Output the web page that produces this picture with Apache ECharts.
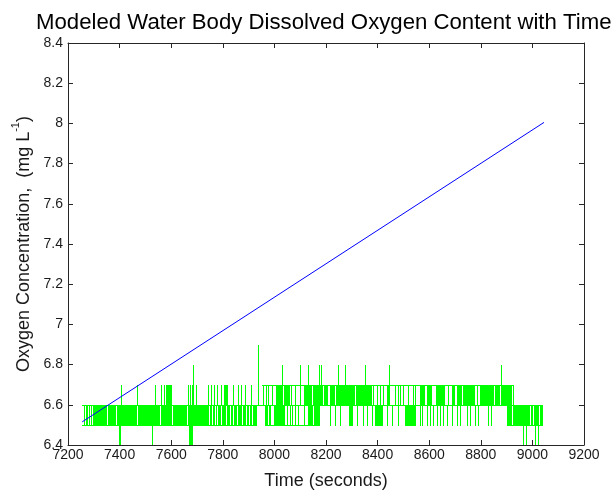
<!DOCTYPE html>
<html>
<head>
<meta charset="utf-8">
<script src="https://cdn.jsdelivr.net/npm/echarts@6/dist/echarts.min.js"></script>
<style>
html,body{margin:0;padding:0;background:#fff;}
#chart{width:615px;height:495px;}
</style>
</head>
<body>
<div id="chart"></div>
<script>
// ---- data ----
const titleText = 'Modeled Water Body Dissolved Oxygen Content with Time';
const xTicks = [7200, 7400, 7600, 7800, 8000, 8200, 8400, 8600, 8800, 9000, 9200];
const yTicks = [6.4, 6.6, 6.8, 7, 7.2, 7.4, 7.6, 7.8, 8, 8.2, 8.4];

// modeled (blue) line: [time, oxygen]
const modelLine = [[7255, 6.515], [9045, 8.005]];

// measured (green) signal levels
const levelDip = 6.4, levelLow = 6.5, levelMid = 6.6, levelHigh = 6.7;

// intervals [t0, t1] where signal flips between 6.5 and 6.6
const lowBand = [
  [7262,7264],[7268,7270],[7274,7276],[7281,7283],[7288,7290],
  [7298,7352],[7356,7385],[7391,7466],[7471,7555],[7560,7602],[7606,7660],[7664,7746],
  [7750,7757],[7761,7768],[7772,7777],[7781,7794],[7798,7813],[7817,7829],[7833,7841],
  [7845,7854],[7858,7875],[7879,7891],[7895,7901],[7905,7914],[7918,7931],
  [7964,7975],[7979,7988],[7998,8041],[8048,8052],[8061,8063],[8070,8074],[8080,8082],[8092,8096],[8113,8115],
  [8132,8149],[8153,8177],[8216,8218],[8235,8237],[8254,8256],[8291,8306],[8319,8321],
  [8345,8347],[8358,8360],[8377,8379],[8390,8422],[8435,8437],[8455,8457],[8481,8483],
  [8506,8549],[8565,8567],[8571,8573],[8590,8592],[8603,8605],[8616,8618],[8629,8631],
  [8642,8644],[8655,8657],[8668,8670],[8687,8689],[8707,8709],[8720,8722],[8745,8747],
  [8758,8760],[8778,8780],[8791,8793],[8829,8831],[8838,8840],
  [8900,8920],[8924,8989],[8993,9004],[9008,9025],[9029,9042]
];
// intervals where signal flips between 6.6 and 6.7
const highBand = [
  [7406,7409],[7467,7470],[7538,7541],[7562,7564],[7571,7573],[7579,7581],[7585,7602],
  [7665,7667],[7672,7674],[7682,7690],[7695,7697],[7743,7745],[7756,7758],[7766,7768],
  [7779,7781],[7792,7794],[7806,7821],[7840,7842],[7859,7861],
  [7871,7873],[7886,7888],[7911,7913],[7956,7958],[7967,7969],[7976,7978],[7989,7991],
  [8007,8033],[8037,8061],[8066,8068],[8079,8081],[8099,8101],[8113,8145],[8151,8177],
  [8177,8188],[8192,8209],[8215,8233],[8237,8311],[8315,8377],[8384,8386],[8397,8399],
  [8410,8412],[8422,8424],[8435,8448],[8468,8470],[8481,8483],
  [8487,8489],[8500,8502],[8519,8521],[8539,8541],[8545,8547],[8565,8584],[8590,8610],
  [8627,8661],[8674,8676],[8687,8700],[8707,8726],[8732,8778],[8784,8786],[8795,8797],
  [8797,8850],[8854,8875],[8881,8920],[8926,8928]
];
// intervals where signal drops between 6.4 and 6.5
const dipBand = [[7397,7405],[7525,7529],[7668,7684],[8965,8968],[8976,8980],[9010,9013],[9020,9023]];
const dipEdges = [[8965,8980],[9010,9023]];
// single excursions from 6.6 up to a peak: [time, peak]
const peaks = [[7686,6.8],[7938,6.9],[8031,6.8],[8100,6.8],[8132,6.8],[8174,6.8],[8181,6.8],
  [8248,6.8],[8274,6.8],[8351,6.8],[8444,6.8],[8878,6.8]];
// spans where the level lines of each band are drawn
const lowEdges = [[7254,7931],[7964,8177],[8900,9042]];
const highEdges = [[7951,8926]];
const midEdge = [[7262,9042]];

// ---- build custom-series items: [t0, t1, lo, hi, filled] ----
const greenItems = [];
lowEdges.forEach(s => greenItems.push([s[0], s[1], levelLow, levelMid, 0]));
highEdges.forEach(s => greenItems.push([s[0], s[1], levelMid, levelHigh, 0]));
midEdge.forEach(s => greenItems.push([s[0], s[1], levelMid, levelMid, 0]));
dipEdges.forEach(s => greenItems.push([s[0], s[1], levelDip, levelDip, 0]));
lowBand.forEach(s => greenItems.push([s[0], s[1], levelLow, levelMid, 1]));
highBand.forEach(s => greenItems.push([s[0], s[1], levelMid, levelHigh, 1]));
dipBand.forEach(s => greenItems.push([s[0], s[1], levelDip, levelLow, 1]));
peaks.forEach(p => greenItems.push([p[0], p[0] + 2, levelMid, p[1], 1]));

const GREEN = '#00ff00';
function renderGreen(params, api) {
  const t0 = api.value(0), t1 = api.value(1), lo = api.value(2), hi = api.value(3), filled = api.value(4);
  const a = api.coord([t0, hi]), b = api.coord([t1, lo]);
  const x0 = Math.round(a[0]);
  const x1 = Math.max(x0 + 1, Math.round(b[0]));
  const yT = Math.round(a[1]), yB = Math.round(b[1]);
  if (filled) {
    return {type: 'rect', shape: {x: x0, y: yT, width: x1 - x0, height: Math.max(1, yB - yT + 1)},
      style: {fill: GREEN}};
  }
  const kids = [{type: 'rect', shape: {x: x0, y: yT, width: x1 - x0, height: 1}, style: {fill: GREEN}}];
  if (yB !== yT) kids.push({type: 'rect', shape: {x: x0, y: yB, width: x1 - x0, height: 1}, style: {fill: GREEN}});
  return {type: 'group', children: kids};
}

const FONT = 'Liberation Sans, Arial, sans-serif';
const axisCol = '#262626';
function xAx(pos, labels) {
  return {
    type: 'value', position: pos, min: xTicks[0], max: xTicks[xTicks.length - 1], interval: 200,
    axisLine: {show: true, onZero: false, lineStyle: {color: axisCol, width: 1}},
    axisTick: {show: true, inside: true, length: 5, lineStyle: {color: axisCol}},
    axisLabel: {show: labels, color: '#1a1a1a', fontSize: 14, fontFamily: FONT, margin: 3,
      formatter: v => String(v)},
    splitLine: {show: false},
    name: labels ? 'Time (seconds)' : '', nameLocation: 'middle', nameGap: 27,
    nameTextStyle: {color: '#1a1a1a', fontSize: 18, fontFamily: FONT}
  };
}
function yAx(pos, labels) {
  return {
    type: 'value', position: pos, min: yTicks[0], max: yTicks[yTicks.length - 1], interval: 0.2,
    axisLine: {show: true, onZero: false, lineStyle: {color: axisCol, width: 1}},
    axisTick: {show: true, inside: true, length: 5, lineStyle: {color: axisCol}},
    axisLabel: {show: labels, color: '#1a1a1a', fontSize: 14, fontFamily: FONT, margin: 5},
    splitLine: {show: false},
    name: labels ? '{a|Oxygen Concentration,  (mg L}{s|-1}{a|)}' : '', nameLocation: 'middle', nameGap: 33,
    nameTextStyle: {color: '#1a1a1a', fontSize: 18, fontFamily: FONT,
      rich: {a: {fontSize: 18, fontFamily: FONT, color: '#1a1a1a', lineHeight: 22, verticalAlign: 'bottom'},
             s: {fontSize: 11, fontFamily: FONT, color: '#1a1a1a', lineHeight: 22, verticalAlign: 'top'}}}
  };
}

const chart = echarts.init(document.getElementById('chart'), null, {renderer: 'canvas'});
chart.setOption({
  animation: false,
  backgroundColor: '#ffffff',
  title: {text: titleText, left: 31, top: 7,
    textStyle: {fontSize: 22.2, fontWeight: 'normal', color: '#000', fontFamily: FONT}},
  grid: {left: 68, right: 31, top: 43, bottom: 45, containLabel: false},
  xAxis: [xAx('bottom', true), xAx('top', false)],
  yAxis: [yAx('left', true), yAx('right', false)],
  series: [
    {type: 'custom', renderItem: renderGreen, data: greenItems, clip: true,
      encode: {x: [0, 1], y: [2, 3]}, silent: true},
    {type: 'line', data: modelLine, showSymbol: false, symbol: 'none',
      lineStyle: {color: '#0000ff', width: 1}, silent: true}
  ]
});
</script>
</body>
</html>
